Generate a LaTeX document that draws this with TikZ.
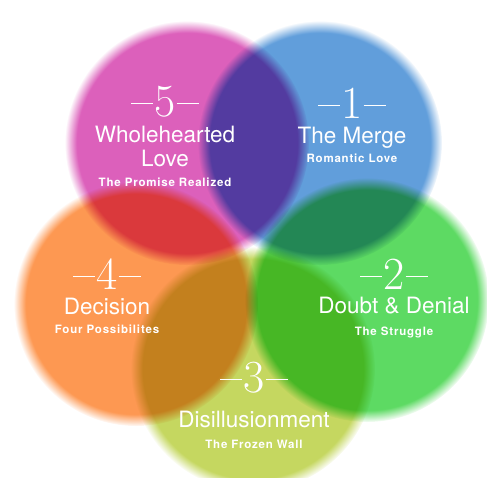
\documentclass[tikz,border=0pt]{standalone}
\usepackage{fontspec}
\newfontfamily\heros{TeX Gyre Heros}
\newfontfamily\herossub[LetterSpace=7]{TeX Gyre Heros}
\usetikzlibrary{fadings}

\definecolor{stagefive}{HTML}{DC60BB}
\definecolor{stageone}{HTML}{619EDB}
\definecolor{stagetwo}{HTML}{5DDA63}
\definecolor{stagethree}{HTML}{C5D760}
\definecolor{stagefour}{HTML}{FD9852}

% soft blurred rim for the discs
\pgfdeclareradialshading{softrimshade}{\pgfpointorigin}{color(0bp)=(pgftransparent!0); color(22.5bp)=(pgftransparent!0); color(25bp)=(pgftransparent!100); color(50bp)=(pgftransparent!100)}
\pgfdeclarefading{softrim}{\pgfuseshading{softrimshade}}

\newcommand{\numrule}{\rule[13pt]{22pt}{0.7pt}}

\begin{document}
\begin{tikzpicture}[x=1pt,y=1pt,
  disc/.style={path fading=softrim},
  stagenum/.style={text=white,font=\fontsize{46}{46}\selectfont,anchor=base,inner sep=0pt},
  stagetitle/.style={text=white,font=\heros\fontsize{22.5}{24}\selectfont,anchor=base,inner sep=0pt},
  stagesub/.style={text=white,font=\herossub\bfseries\fontsize{11.5}{12}\selectfont,anchor=base,inner sep=0pt}]
	\useasboundingbox (0,0) rectangle (487,478);
	\coordinate (c5) at (187,335);
	\coordinate (c1) at (320,335);
	\coordinate (c2) at (367,178);
	\coordinate (c3) at (253,109);
	\coordinate (c4) at (136,174);

	% overlapping discs
	\begin{scope}[blend group=multiply]
	  \fill[stagefive, disc] (c5) circle (122);
	  \fill[stageone, disc] (c1) circle (122);
	  \fill[stagetwo, disc] (c2) circle (122);
	  \fill[stagethree, disc] (c3) circle (122);
	  \fill[stagefour, disc] (c4) circle (122);
	\end{scope}

	% stage 5
	\node[stagenum] (n5) at (165,361) {\numrule\hspace{1pt}5\hspace{1pt}\numrule};
	\node[stagetitle] (t5) at (165,335) {Wholehearted};
	\node[stagetitle] (t5b) at (165,311) {Love};
	\node[stagesub] (s5) at (165,291) {The Promise Realized};

	% stage 1
	\node[stagenum] (n1) at (352,359) {\numrule\hspace{1pt}1\hspace{1pt}\numrule};
	\node[stagetitle] (t1) at (352,334) {The Merge};
	\node[stagesub] (s1) at (352,315) {Romantic Love};

	% stage 2
	\node[stagenum] (n2) at (394,188) {\numrule\hspace{1pt}2\hspace{1pt}\numrule};
	\node[stagetitle] (t2) at (394,164) {Doubt \& Denial};
	\node[stagesub] (s2) at (394,142) {The Struggle};

	% stage 3
	\node[stagenum] (n3) at (254,85) {\numrule\hspace{1pt}3\hspace{1pt}\numrule};
	\node[stagetitle] (t3) at (254,50) {Disillusionment};
	\node[stagesub] (s3) at (254,29) {The Frozen Wall};

	% stage 4
	\node[stagenum] (n4) at (107,188) {\numrule\hspace{1pt}4\hspace{1pt}\numrule};
	\node[stagetitle] (t4) at (107,163) {Decision};
	\node[stagesub] (s4) at (107,144) {Four Possibilites};
\end{tikzpicture}
\end{document}
